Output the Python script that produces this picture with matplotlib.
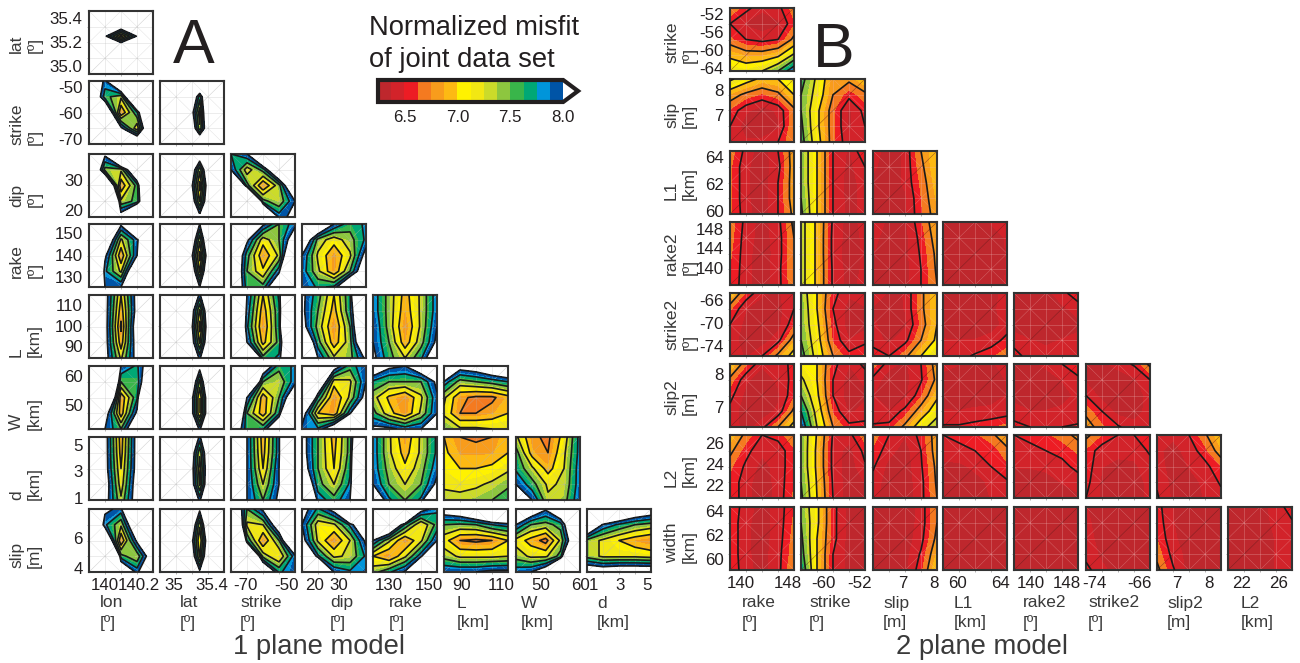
import numpy as np
import matplotlib
matplotlib.use('Agg')
import matplotlib.pyplot as plt
from matplotlib.cm import ScalarMappable
from matplotlib.colors import BoundaryNorm, ListedColormap

plt.rcParams['font.family'] = ['Liberation Sans', 'DejaVu Sans']
plt.rcParams['axes.unicode_minus'] = False

# misfit colour classes
levels = [6.25 + 0.125 * i for i in range(15)]
line_levels = [6.5, 6.75, 7.0, 7.25, 7.5, 7.75, 8.0]
colors = ['#BE272D', '#D2232A', '#ED1C24', '#F47A20', '#F89C1C', '#FDB913', '#FFF200',
          '#F2E713', '#CBDB2A', '#8DC63F', '#39B54A', '#00A875', '#0095DA', '#0054A6']

# ---- A: one plane model, misfit grids, rows listed top to bottom ----
A_lat_lon = [[13,13,13,13,13],[13,11,8.4,11,13],[13,8.1,6.9,8.05,13],[13,11,10.2,11,13],[13,13,13,13,13]]

A_strike_lon = [[8.8,7.9,9.5,13,13],[9,7.6,7.3,10,13],[13,9,6.75,7.7,10],[13,12,8.1,7.05,9.5],[13,13,10,9,11]]
A_strike_lat = [[11,11,9.5,11,11],[11,10,7.6,10,11],[11,9.5,7.1,10.5,11],[11,10,7.3,9.5,11],[11,11,9,11,11]]

A_dip_lon = [[11,8.1,11,13,13],[9.5,7.4,7.3,9,13],[13,9.5,6.8,7.6,11],[13,13,7.3,7.6,10],[13,13,8.3,10,13]]
A_dip_lat = [[11,11,8.6,11,11],[11,9.8,7.3,9.8,11],[11,9.5,6.9,9.5,11],[11,9.8,7.2,9.6,11],[11,11,8.2,11,11]]
A_dip_strike = [[7.75,8.0,9.5,13,13],[8.0,7.1,7.6,9,13],[11,7.6,6.75,7.4,9],[13,12,7.6,7.3,8],[13,13,10,7.9,8.1]]

A_rake_lon = [[13,12,8.1,11,13],[13,8.8,7.2,7.9,9.5],[13,8.1,6.8,8.0,11],[11,7.8,7.2,9,12],[11,8,8,11,13]]
A_rake_lat = [[11,11,8,11,11],[11,10,7.3,10,11],[11,9.5,6.9,9.5,11],[11,10,7.2,10,11],[11,11,8,11,11]]
A_rake_strike = [[13,13,8.1,7.5,7.9],[13,8.1,7.1,7.5,8.4],[9,7.6,6.8,7.3,9.5],[9,7.5,7.05,7.9,11],[9,7.6,7.6,8.8,13]]
A_rake_dip = [[12,9,8,7.6,7.8],[8.7,7.4,7.1,7.4,7.8],[8,7.2,6.8,7.2,8.2],[7.9,7.3,6.8,7.5,8.6],[8,7.7,7.8,9,13]]

A_L_lon = [[13,8.2,7.0,8.2,13],[13,8.2,6.85,8.2,13],[13,8.2,6.7,8.4,13],[13,8.2,6.85,8.3,13],[13,8.2,7.2,8.2,13]]
A_L_lat = [[11,10,7.9,10,11],[11,9.5,7.2,9.5,11],[11,9.5,6.9,9.5,11],[11,9.5,7.2,9.5,11],[11,10,7.9,10,11]]
A_L_strike = [[10,8,7.0,7.8,11],[10,7.9,6.85,7.7,11],[10,7.8,6.75,7.7,12],[12,8,6.9,7.6,10],[13,11,7.6,7.8,10]]
A_L_dip = [[8.1,7.6,7.0,7.7,11],[8.1,7.5,6.9,7.7,9.5],[8.2,7.4,6.75,7.5,9.5],[9,7.6,6.85,7.4,9],[12,8,7.3,7.4,8.1]]
A_L_rake = [[7.9,7.4,6.9,7.3,7.9],[7.9,7.4,6.85,7.3,7.9],[8,7.4,6.75,7.3,8],[8,7.5,6.85,7.4,8.1],[8.1,7.6,7.25,7.7,8.6]]

A_W_lon = [[13,13,8.0,7.7,8.5],[13,11,7.5,7.6,9],[13,10,6.8,7.7,12],[13,8.3,6.85,8.1,13],[13,8,7.5,8.8,13]]
A_W_lat = [[11,11,8.2,11,11],[11,10,7.4,10,11],[11,9.5,7.0,9.5,11],[11,9.5,7.0,9.5,11],[11,10,7.9,10,11]]
A_W_strike = [[13,13,8.5,7.6,7.8],[13,10,7.5,7.3,7.9],[13,8,6.85,7.5,8.6],[10,7.5,6.85,7.7,11],[8.7,7.6,7.7,9,13]]
A_W_dip = [[13,12,8.3,7.6,8],[13,8.9,7.1,7.2,8],[10,7.7,6.75,7.3,8.2],[8.3,7.0,6.8,7.9,11],[7.9,7.8,8.5,12,13]]
A_W_rake = [[8.5,8.1,8.0,8.5,13],[7.7,7.5,7.5,7.5,8.1],[7.35,6.95,6.75,7.2,7.95],[7.6,7.1,6.78,7.3,8],[8.1,8.1,7.9,8,10]]
A_W_L = [[13,8.2,8.3,8.6,8.8],[7.9,7.4,7.5,7.6,7.75],[7.3,6.8,6.7,6.7,6.9],[7.2,6.75,6.75,6.85,7.0],[7.5,7.3,7.3,7.25,7.25]]

A_d_lon = [[13,8.2,6.85,8.2,13],[13,8.2,6.9,8.2,13],[13,8.2,7.0,8.2,13],[13,8.3,7.1,8.3,13],[13,8.2,7.3,8.3,13]]
A_d_lat = [[11,10,7.9,10,11],[11,9.5,7.3,9.5,11],[11,9.5,7.1,9.5,11],[11,9.5,7.2,9.5,11],[11,10,7.9,10,11]]
A_d_strike = [[12,8,6.85,7.9,12],[12,8,6.9,7.9,12],[12,8,7.0,8,12],[12,8,7.25,8,13],[12,8,7.5,8.1,13]]
A_d_dip = [[8.2,7.5,6.9,7.6,10],[8.2,7.5,6.95,7.6,11],[8.3,7.5,7.0,7.7,11],[8.8,7.6,7.25,7.8,11],[9.5,7.9,7.6,8,12]]
A_d_rake = [[7.9,7.3,6.8,7.3,7.8],[7.9,7.3,6.9,7.3,7.8],[7.9,7.4,7.05,7.4,7.9],[8,7.5,7.25,7.5,8.1],[8.5,7.8,7.5,7.8,9.5]]
A_d_L = [[7.0,6.75,6.7,6.75,7.0],[7.05,6.85,6.85,6.85,7.0],[7.1,7.0,7.0,7.05,7.2],[7.2,7.15,7.2,7.3,7.45],[7.35,7.35,7.4,7.5,7.65]]
A_d_W = [[7.3,6.8,6.7,7.1,7.85],[7.6,6.9,6.75,7.2,7.85],[7.7,7.3,6.9,7.25,7.9],[8,7.6,7.2,7.3,7.9],[11,8,7.3,7.4,7.95]]

A_slip_lon = [[13,8.1,7.9,11,13],[9.5,7.8,7.3,8.8,13],[13,9,6.75,8.1,13],[13,13,7.6,7.3,8.5],[13,13,8.8,7.9,9]]
A_slip_lat = [[11,11,8.1,11,11],[11,10,7.3,10,11],[11,9.5,7.0,9.5,11],[11,9.8,7.2,9.8,11],[11,11,8.1,11,11]]
A_slip_strike = [[9,7.5,8.1,12,13],[10,7.2,7.25,8.5,13],[13,7.7,6.75,7.5,9.5],[13,10,7.4,7.0,7.9],[13,13,9,7.7,7.95]]
A_slip_dip = [[8.2,7.7,8.2,11,13],[8,7.1,7.2,7.8,8.8],[8.2,7.2,6.75,7.25,8.1],[9.5,7.8,7.2,7.3,7.8],[13,11,8,7.8,7.9]]
A_slip_rake = [[13,13,12,8.2,7.8],[11,9,7.7,7,7.6],[8,7.3,6.75,7.2,8],[7,6.75,7.2,7.9,10],[7.4,7.7,8.05,11,13]]
A_slip_L = [[8.3,8.5,9,9.5,10],[7.5,7.45,7.5,7.75,7.85],[7.1,6.75,6.7,6.75,7.0],[7.4,7.2,7.2,7.2,7.25],[8.0,8.0,8.0,8.1,8.1]]
A_slip_W = [[13,8.5,8.05,8.7,13],[8,7.5,7.4,7.6,9],[7.15,6.9,6.65,7.3,8.6],[7.4,7.2,7.2,7.6,11],[7.9,8,8.4,11,13]]
A_slip_d = [[13,10,9,8.6,8.4],[9,7.95,7.7,7.5,7.4],[7.4,7.2,7.0,6.85,6.75],[7.4,7.2,7.2,7.2,7.15],[8.5,8.4,8.5,8.5,8.5]]

A_rows = [[A_lat_lon],
          [A_strike_lon, A_strike_lat],
          [A_dip_lon, A_dip_lat, A_dip_strike],
          [A_rake_lon, A_rake_lat, A_rake_strike, A_rake_dip],
          [A_L_lon, A_L_lat, A_L_strike, A_L_dip, A_L_rake],
          [A_W_lon, A_W_lat, A_W_strike, A_W_dip, A_W_rake, A_W_L],
          [A_d_lon, A_d_lat, A_d_strike, A_d_dip, A_d_rake, A_d_L, A_d_W],
          [A_slip_lon, A_slip_lat, A_slip_strike, A_slip_dip, A_slip_rake, A_slip_L, A_slip_W, A_slip_d]]

# ---- B: two plane model ----
B_strike_rake = [[6.75,6.55,6.4,6.45,6.7],[6.5,6.35,6.3,6.35,6.6],[6.65,6.5,6.45,6.5,6.8],[6.95,6.85,6.85,6.95,7.3],[7.2,7.15,7.25,7.5,7.95]]

B_slip_rake = [[7.3,7.1,6.95,7.0,7.2],[6.85,6.7,6.6,6.7,7.0],[6.6,6.4,6.3,6.4,6.7],[6.5,6.3,6.3,6.35,6.75],[6.5,6.4,6.4,6.5,6.75]]
B_slip_strike = [[7.6,7.2,6.8,6.8,7.0],[7.5,7.15,6.75,6.55,6.7],[7.5,7.05,6.65,6.35,6.55],[7.55,7.05,6.65,6.35,6.5],[7.6,7.1,6.65,6.4,6.5]]

B_L1_rake = [[6.7,6.45,6.3,6.5,6.85],[6.65,6.4,6.3,6.45,6.85],[6.65,6.4,6.3,6.5,6.85],[6.65,6.4,6.3,6.5,6.85],[6.65,6.42,6.3,6.5,6.8]]
B_L1_strike = [[7.45,7.0,6.5,6.35,6.65],[7.45,7.0,6.5,6.33,6.5],[7.45,7.0,6.5,6.3,6.45],[7.5,7.0,6.5,6.32,6.42],[7.55,7.0,6.5,6.33,6.42]]
B_L1_slip = [[6.45,6.3,6.4,6.75,7.0],[6.4,6.3,6.4,6.7,7],[6.35,6.3,6.4,6.65,6.95],[6.35,6.3,6.35,6.62,6.9],[6.35,6.3,6.35,6.6,6.85]]

B_rake2_rake = [[6.7,6.45,6.32,6.45,6.8],[6.68,6.43,6.32,6.43,6.75],[6.65,6.42,6.3,6.43,6.75],[6.62,6.42,6.3,6.45,6.75],[6.6,6.42,6.3,6.45,6.72]]
B_rake2_strike = [[7.35,6.95,6.47,6.32,6.42],[7.35,6.95,6.45,6.32,6.4],[7.35,6.95,6.45,6.3,6.4],[7.35,6.95,6.47,6.32,6.4],[7.35,6.95,6.47,6.33,6.42]]
B_rake2_slip = [[6.5,6.33,6.35,6.6,6.9],[6.42,6.3,6.33,6.55,6.85],[6.38,6.3,6.33,6.52,6.8],[6.35,6.3,6.33,6.5,6.78],[6.35,6.3,6.33,6.5,6.75]]
B_rake2_L1 = [[6.33,6.3,6.3,6.38,6.42],[6.3,6.3,6.3,6.35,6.38],[6.3,6.3,6.3,6.33,6.38],[6.3,6.3,6.3,6.33,6.38],[6.3,6.3,6.3,6.35,6.38]]

B_strike2_rake = [[7,6.6,6.4,6.35,6.5],[6.65,6.38,6.3,6.32,6.5],[6.5,6.33,6.28,6.32,6.6],[6.45,6.3,6.3,6.45,6.85],[6.5,6.35,6.5,6.8,7.1]]
B_strike2_strike = [[7.4,7.0,6.55,6.4,6.5],[7.45,7.0,6.5,6.32,6.35],[7.45,7.05,6.55,6.3,6.33],[7.5,7.1,6.6,6.38,6.45],[7.6,7.15,6.75,6.55,6.65]]
B_strike2_slip = [[6.5,6.35,6.38,6.7,7.0],[6.35,6.3,6.38,6.7,7.0],[6.4,6.3,6.35,6.65,7.0],[6.42,6.35,6.45,6.75,7.05],[6.6,6.5,6.7,7.0,7.25]]
B_strike2_L1 = [[6.32,6.32,6.3,6.35,6.4],[6.32,6.3,6.3,6.35,6.42],[6.32,6.3,6.3,6.32,6.42],[6.38,6.38,6.38,6.42,6.55],[6.42,6.45,6.52,6.6,6.7]]
B_strike2_rake2 = [[6.35,6.3,6.33,6.45,6.6],[6.3,6.3,6.3,6.35,6.42],[6.3,6.3,6.3,6.32,6.35],[6.45,6.38,6.35,6.38,6.4],[6.55,6.45,6.42,6.42,6.45]]

B_slip2_rake = [[7,6.65,6.4,6.42,6.55],[6.7,6.4,6.3,6.4,6.55],[6.55,6.33,6.3,6.35,6.6],[6.45,6.3,6.3,6.4,6.8],[6.45,6.32,6.45,6.75,7.1]]
B_slip2_strike = [[7.1,7.0,6.55,6.38,6.55],[7.3,7.0,6.5,6.32,6.4],[7.5,7.05,6.5,6.3,6.35],[7.75,7.15,6.6,6.35,6.42],[7.95,7.25,6.75,6.55,6.55]]
B_slip2_slip = [[6.7,6.42,6.35,6.5,6.85],[6.45,6.3,6.33,6.48,6.8],[6.38,6.3,6.33,6.6,6.95],[6.42,6.38,6.55,6.85,7.15],[6.52,6.55,6.8,7.15,7.4]]
B_slip2_L1 = [[6.42,6.38,6.35,6.35,6.45],[6.33,6.3,6.3,6.33,6.38],[6.33,6.3,6.3,6.33,6.38],[6.38,6.38,6.4,6.4,6.42],[6.52,6.52,6.55,6.6,6.68]]
B_slip2_rake2 = [[6.35,6.35,6.4,6.5,6.65],[6.33,6.3,6.32,6.38,6.45],[6.33,6.3,6.3,6.33,6.4],[6.42,6.38,6.38,6.4,6.42],[6.55,6.5,6.48,6.5,6.52]]
B_slip2_strike2 = [[6.38,6.35,6.42,6.52,6.8],[6.35,6.3,6.3,6.35,6.5],[6.5,6.32,6.3,6.3,6.42],[6.7,6.5,6.32,6.32,6.42],[6.85,6.65,6.52,6.42,6.42]]

B_L2_rake = [[6.95,6.7,6.5,6.55,6.75],[6.8,6.55,6.4,6.42,6.6],[6.65,6.47,6.33,6.42,6.6],[6.6,6.42,6.3,6.42,6.62],[6.6,6.42,6.3,6.42,6.65]]
B_L2_strike = [[7.45,6.98,6.48,6.45,6.7],[7.45,6.95,6.45,6.32,6.55],[7.45,6.95,6.45,6.3,6.48],[7.5,6.98,6.48,6.3,6.38],[7.55,7.0,6.5,6.3,6.35]]
B_L2_slip = [[6.7,6.5,6.38,6.55,6.85],[6.6,6.42,6.32,6.5,6.85],[6.52,6.33,6.3,6.48,6.8],[6.45,6.3,6.3,6.45,6.78],[6.42,6.3,6.3,6.45,6.75]]
B_L2_L1 = [[6.5,6.55,6.6,6.7,6.9],[6.42,6.45,6.5,6.55,6.7],[6.35,6.35,6.4,6.5,6.6],[6.3,6.3,6.33,6.4,6.48],[6.3,6.3,6.3,6.38,6.45]]
B_L2_rake2 = [[6.5,6.55,6.6,6.68,6.8],[6.42,6.45,6.5,6.55,6.65],[6.38,6.38,6.4,6.45,6.55],[6.33,6.33,6.33,6.38,6.42],[6.3,6.3,6.3,6.32,6.35]]
B_L2_strike2 = [[6.8,6.62,6.5,6.5,6.58],[6.6,6.42,6.42,6.42,6.52],[6.58,6.38,6.33,6.35,6.45],[6.55,6.35,6.3,6.3,6.42],[6.5,6.35,6.3,6.3,6.42]]
B_L2_slip2 = [[6.42,6.4,6.5,6.72,7.0],[6.4,6.33,6.42,6.58,6.85],[6.42,6.33,6.38,6.45,6.62],[6.48,6.33,6.33,6.4,6.52],[6.52,6.35,6.33,6.38,6.45]]

B_width_rake = [[6.62,6.42,6.33,6.42,6.62],[6.6,6.4,6.32,6.42,6.65],[6.6,6.4,6.32,6.43,6.68],[6.6,6.4,6.32,6.45,6.7],[6.6,6.42,6.32,6.45,6.75]]
B_width_strike = [[7.45,7.05,6.55,6.33,6.35],[7.5,7.05,6.55,6.32,6.35],[7.55,7.0,6.55,6.32,6.33],[7.6,7.0,6.5,6.32,6.33],[7.7,7.0,6.5,6.33,6.33]]
B_width_slip = [[6.3,6.3,6.3,6.42,6.75],[6.3,6.3,6.3,6.42,6.75],[6.3,6.3,6.3,6.45,6.8],[6.3,6.3,6.32,6.52,6.9],[6.3,6.3,6.33,6.58,7.0]]
B_width_L1 = [[6.3,6.3,6.3,6.3,6.3],[6.3,6.3,6.3,6.3,6.3],[6.3,6.3,6.3,6.3,6.3],[6.3,6.3,6.3,6.3,6.3],[6.3,6.3,6.3,6.3,6.3]]
B_width_rake2 = [[6.3,6.3,6.3,6.33,6.38],[6.3,6.3,6.3,6.3,6.33],[6.3,6.3,6.3,6.3,6.3],[6.3,6.3,6.3,6.3,6.3],[6.3,6.3,6.3,6.3,6.3]]
B_width_strike2 = [[6.38,6.32,6.3,6.3,6.32],[6.4,6.32,6.3,6.3,6.32],[6.42,6.33,6.3,6.3,6.33],[6.45,6.35,6.32,6.32,6.35],[6.55,6.4,6.33,6.33,6.38]]
B_width_slip2 = [[6.55,6.38,6.3,6.3,6.33],[6.58,6.38,6.3,6.3,6.33],[6.62,6.4,6.3,6.3,6.33],[6.7,6.45,6.32,6.32,6.33],[6.8,6.52,6.32,6.32,6.35]]
B_width_L2 = [[6.3,6.3,6.33,6.42,6.58],[6.3,6.3,6.33,6.4,6.48],[6.3,6.3,6.33,6.38,6.42],[6.3,6.3,6.33,6.38,6.4],[6.3,6.3,6.33,6.38,6.38]]

B_rows = [[B_strike_rake],
          [B_slip_rake, B_slip_strike],
          [B_L1_rake, B_L1_strike, B_L1_slip],
          [B_rake2_rake, B_rake2_strike, B_rake2_slip, B_rake2_L1],
          [B_strike2_rake, B_strike2_strike, B_strike2_slip, B_strike2_L1, B_strike2_rake2],
          [B_slip2_rake, B_slip2_strike, B_slip2_slip, B_slip2_L1, B_slip2_rake2, B_slip2_strike2],
          [B_L2_rake, B_L2_strike, B_L2_slip, B_L2_L1, B_L2_rake2, B_L2_strike2, B_L2_slip2],
          [B_width_rake, B_width_strike, B_width_slip, B_width_L1, B_width_rake2, B_width_strike2, B_width_slip2, B_width_L2]]

# axis ranges and tick labels
A_xlims = [(139.91, 140.28), (34.85, 35.53), (-77.3, -46), (14.6, 41.3), (122, 154), (80.8, 113.6), (43.6, 58.8), (0.55, 5.3)]
A_xticks = [[140, 140.2], [35, 35.4], [-70, -50], [20, 30], [130, 150], [90, 110], [50, 60], [1, 3, 5]]
A_xticklabels = [['140', '140.2'], ['35', '35.4'], ['-70', '-50'], ['20', '30'], ['130', '150'], ['90', '110'], ['50', '60'], ['1', '3', '5']]
A_ylims = [(34.937, 35.457), (-71.9, -47.7), (17.7, 38.7), (125.5, 154), (84.4, 115), (41.7, 63.4), (0.85, 5.6), (3.7, 7.9)]
A_yticks = [[35.4, 35.2, 35.0], [-50, -60, -70], [30, 20], [150, 140, 130], [110, 100, 90], [60, 50], [5, 3, 1], [6, 4]]
A_yticklabels = [['35.4', '35.2', '35.0'], ['-50', '-60', '-70'], ['30', '20'], ['150', '140', '130'], ['110', '100', '90'], ['60', '50'], ['5', '3', '1'], ['6', '4']]
A_xlabels = ['lon\n[º]', 'lat\n[º]', 'strike\n[º]', 'dip\n[º]', 'rake\n[º]', 'L\n[km]', 'W\n[km]', 'd\n[km]']
A_ylabels = ['lat\n[º]', 'strike\n[º]', 'dip\n[º]', 'rake\n[º]', 'L\n[km]', 'W\n[km]', 'd\n[km]', 'slip\n[m]']

B_xlims = [(138.1, 149), (-64.9, -50.7), (6.06, 8.1), (58.7, 64.6), (136.2, 150.4), (-75.4, -64.2), (6.35, 8.4), (20.6, 27.4)]
B_xticks = [[140, 148], [-60, -52], [7, 8], [60, 64], [140, 148], [-74, -66], [7, 8], [22, 26]]
B_xticklabels = [['140', '148'], ['-60', '-52'], ['7', '8'], ['60', '64'], ['140', '148'], ['-74', '-66'], ['7', '8'], ['22', '26']]
B_ylims = [(-64.7, -50.7), (5.9, 8.44), (59.75, 64.45), (136.5, 149.4), (-75.7, -64.8), (6.4, 8.3), (20.8, 26.8), (59.1, 64.3)]
B_yticks = [[-52, -56, -60, -64], [8, 7], [64, 62, 60], [148, 144, 140], [-66, -70, -74], [8, 7], [26, 24, 22], [64, 62, 60]]
B_yticklabels = [['-52', '-56', '-60', '-64'], ['8', '7'], ['64', '62', '60'], ['148', '144', '140'], ['-66', '-70', '-74'], ['8', '7'], ['26', '24', '22'], ['64', '62', '60']]
B_xlabels = ['rake\n[º]', 'strike\n[º]', 'slip\n[m]', 'L1\n[km]', 'rake2\n[º]', 'strike2\n[º]', 'slip2\n[m]', 'L2\n[km]']
B_ylabels = ['strike\n[º]', 'slip\n[m]', 'L1\n[km]', 'rake2\n[º]', 'strike2\n[º]', 'slip2\n[m]', 'L2\n[km]', 'width\n[km]']

cbar_ticks = [6.5, 7.0, 7.5, 8.0]

# layout in pixels of the 1300x663 picture
W_PX, H_PX = 1300, 663
A_left = [89, 160, 231, 302, 373, 444, 516, 587]
A_top = [11, 81, 154, 224, 295, 366, 437, 509]
B_left = [730, 801, 873, 943, 1014, 1086, 1157, 1228]
B_top = [8, 79, 151, 222, 293, 364, 435, 507]
A_xlabel_x = [100, 180, 240, 330, 389, 457, 521, 597]
B_xlabel_x = [742, 809, 883, 954, 1023, 1088, 1167, 1241]
A_ylabel_y = [53, 145, 207, 278, 357, 430, 500, 568]
B_ylabel_y = [63, 128, 200, 275, 350, 415, 487, 563]
node_frac = [0, 0.25, 0.5, 0.75, 1]
lat_x_frac = [0, 0.35, 0.62, 0.85, 1]
lat_y_frac = [0, 0.3, 0.6, 0.75, 1]
TEXT = '#231F20'
LABEL = '#3a3a3a'

fig = plt.figure(figsize=(W_PX / 100, H_PX / 100), dpi=100)


def text_px(x, y, s, **kw):
    fig.text(x / W_PX, 1 - y / H_PX, s, **kw)


def panel(left, top, w=64, h=63):
    return fig.add_axes([left / W_PX, 1 - (top + h) / H_PX, w / W_PX, h / H_PX])


def draw_block(rows, xlims, ylims, xticks, xticklabels, yticks, yticklabels, lefts, tops,
               gridcol, diagcol, gridalpha, lat_col=None, lat_row=None):
    for i, row in enumerate(rows):
        for j, grid in enumerate(row):
            ax = panel(lefts[j], tops[i])
            xf = lat_x_frac if j == lat_col else node_frac
            yf = lat_y_frac if i == lat_row else node_frac
            x = xlims[j][0] + np.array(xf) * (xlims[j][1] - xlims[j][0])
            y = ylims[i][0] + np.array(yf) * (ylims[i][1] - ylims[i][0])
            z = np.flipud(np.array(grid, dtype=float))
            ax.contourf(x, y, z, levels=levels, colors=colors, zorder=1)
            # faint mesh of the search grid
            for a in [0.25, 0.5, 0.75]:
                ax.plot([a, a], [0, 1], transform=ax.transAxes, color=gridcol, lw=0.4, alpha=gridalpha, zorder=2)
                ax.plot([0, 1], [a, a], transform=ax.transAxes, color=gridcol, lw=0.4, alpha=gridalpha, zorder=2)
            for a in [0, 0.25, 0.5, 0.75]:
                for b in [0, 0.25, 0.5, 0.75]:
                    if (int(a * 4) + int(b * 4)) % 2 == 0 and a != b:
                        ax.plot([a, a + 0.25], [b, b + 0.25], transform=ax.transAxes, color=gridcol, lw=0.3, alpha=gridalpha, zorder=2)
                    elif (int(a * 4) + int(b * 4)) % 2 == 1:
                        ax.plot([a, a + 0.25], [b + 0.25, b], transform=ax.transAxes, color=gridcol, lw=0.3, alpha=gridalpha, zorder=2)
            ax.plot([0, 1], [0, 1], transform=ax.transAxes, color=diagcol, lw=0.4, alpha=0.6, zorder=2)
            ax.contour(x, y, z, levels=line_levels, colors='#1a1a1a', linewidths=1.2, zorder=3)
            ax.set_xlim(xlims[j])
            ax.set_ylim(ylims[i])
            xr = xlims[j][1] - xlims[j][0]
            yr = ylims[i][1] - ylims[i][0]
            ax.set_xticks([xlims[j][0] + q * xr for q in [0.25, 0.5, 0.75]], minor=True)
            ax.set_yticks([ylims[i][0] + q * yr for q in [0.25, 0.5, 0.75]], minor=True)
            ax.tick_params(which='minor', length=1.5, width=0.4, color='#777777')
            ax.tick_params(which='major', length=0, labelsize=12.2, labelcolor=TEXT)
            ax.tick_params(axis='x', which='major', pad=4)
            ax.tick_params(axis='y', which='major', pad=4.5)
            if i == len(rows) - 1:
                ax.set_xticks(xticks[j], xticklabels[j])
            else:
                ax.set_xticks([])
            if j == 0:
                ax.set_yticks(yticks[i], yticklabels[i])
            else:
                ax.set_yticks([])
            for s in ax.spines.values():
                s.set_linewidth(1.5)
                s.set_color('#333333')


draw_block(A_rows, A_xlims, A_ylims, A_xticks, A_xticklabels, A_yticks, A_yticklabels,
           A_left, A_top, '#b5b5b5', '#b5b5b5', 0.45, lat_col=1, lat_row=0)
draw_block(B_rows, B_xlims, B_ylims, B_xticks, B_xticklabels, B_yticks, B_yticklabels,
           B_left, B_top, '#f0b4b4', '#5a1a1a', 0.5)

for x0, lab in zip(A_xlabel_x + B_xlabel_x, A_xlabels + B_xlabels):
    text_px(x0, 613, lab, fontsize=12.5, color=LABEL, ha='left', va='center', linespacing=1.4)
for y0, lab in zip(A_ylabel_y, A_ylabels):
    text_px(9, y0, lab, fontsize=12.5, color=LABEL, rotation=90, ha='left', va='bottom', multialignment='left', linespacing=1.2)
for y0, lab in zip(B_ylabel_y, B_ylabels):
    text_px(664, y0, lab, fontsize=12.5, color=LABEL, rotation=90, ha='left', va='bottom', multialignment='left', linespacing=1.2)

text_px(194, 63, 'A', fontsize=45, color=TEXT, ha='center', va='baseline')
text_px(834, 67, 'B', fontsize=45, color=TEXT, ha='center', va='baseline')
text_px(319, 647, '1 plane model', fontsize=19.7, color=LABEL, ha='center', va='center')
text_px(982, 647, '2 plane model', fontsize=19.7, color=LABEL, ha='center', va='center')
text_px(369, 28, 'Normalized misfit', fontsize=19.7, color=TEXT, ha='left', va='center')
text_px(369, 60, 'of joint data set', fontsize=19.7, color=TEXT, ha='left', va='center')

# colour bar, white arrow head for misfit above 8
cmap = ListedColormap(colors)
cmap.set_over('white')
norm = BoundaryNorm(levels, len(colors))
cax = fig.add_axes([378 / W_PX, 1 - 102 / H_PX, 200 / W_PX, 22 / H_PX])
cb = fig.colorbar(ScalarMappable(norm=norm, cmap=cmap), cax=cax, orientation='horizontal',
                  extend='max', extendfrac=0.08, spacing='proportional', ticks=cbar_ticks)
cb.ax.set_xticklabels(['6.5', '7.0', '7.5', '8.0'])
cb.ax.tick_params(length=0, labelsize=12.2, labelcolor=TEXT, pad=6)
cb.ax.minorticks_off()
cb.outline.set_linewidth(3)
cb.outline.set_edgecolor('#231F20')
cb.dividers.set_visible(False)

fig.savefig('out.png', dpi=100)
